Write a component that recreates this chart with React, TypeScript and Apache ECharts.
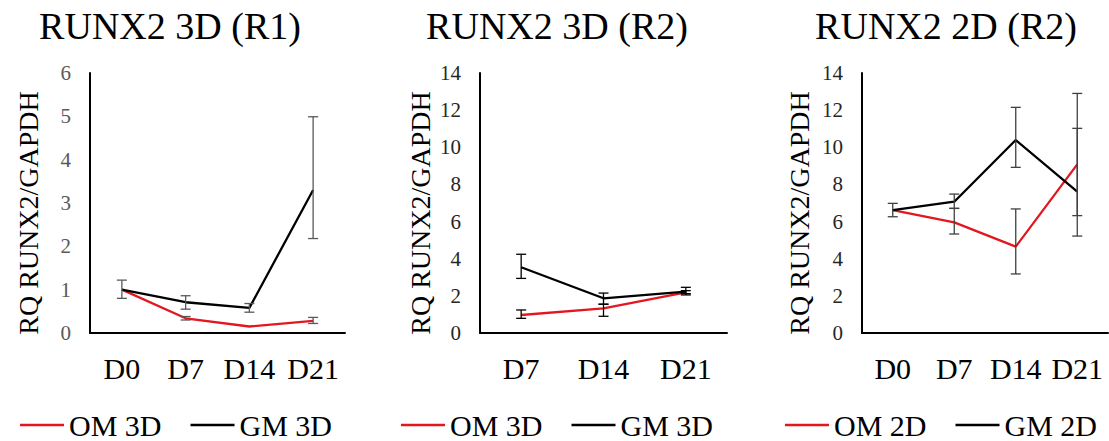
import React, { useEffect, useRef } from "react";
import * as echarts from "echarts";

const cats1 = ["D0", "D7", "D14", "D21"];
const p1OM = [1.0, 0.34, 0.15, 0.28];
const p1OMLow = [null, 0.3, null, 0.22];
const p1OMHigh = [null, 0.38, null, 0.36];
const p1GM = [1.0, 0.71, 0.58, 3.3];
const p1GMLow = [0.8, 0.55, 0.48, 2.18];
const p1GMHigh = [1.22, 0.86, 0.68, 4.99];

const cats2 = ["D7", "D14", "D21"];
const p2OM = [0.97, 1.33, 2.19];
const p2OMLow = [0.79, 0.9, 2.12];
const p2OMHigh = [1.24, 1.55, 2.28];
const p2GM = [3.54, 1.87, 2.23];
const p2GMLow = [2.94, 1.55, 2.05];
const p2GMHigh = [4.24, 2.15, 2.46];

const cats3 = ["D0", "D7", "D14", "D21"];
const p3OM = [6.62, 5.96, 4.65, 9.08];
const p3OMLow = [null, 5.33, 3.18, 5.22];
const p3OMHigh = [null, 6.71, 6.68, 12.9];
const p3GM = [6.62, 7.07, 10.39, 7.61];
const p3GMLow = [6.26, 6.71, 8.92, 6.32];
const p3GMHigh = [6.98, 7.48, 12.15, 11.02];

const titles = ["RUNX2 3D (R1)", "RUNX2 3D (R2)", "RUNX2 2D (R2)"];
const yName = "RQ RUNX2/GAPDH";
const legendNames = [
  ["OM 3D", "GM 3D"],
  ["OM 3D", "GM 3D"],
  ["OM 2D", "GM 2D"],
];

const RED = "#e3171f";
const FONT = "Liberation Serif";

function errData(low: (number | null)[], high: (number | null)[]) {
  const out: any[] = [];
  low.forEach((l, i) => {
    const h = high[i];
    if (l != null && h != null) out.push([i, l, h]);
  });
  return out;
}

function errSeries(idx: number, low: any[], high: any[], color: string) {
  return {
    type: "custom",
    name: "err",
    xAxisIndex: idx,
    yAxisIndex: idx,
    z: 5,
    silent: true,
    data: errData(low, high),
    renderItem: (params: any, api: any) => {
      const i = api.value(0);
      const lo = api.coord([i, api.value(1)]);
      const hi = api.coord([i, api.value(2)]);
      const w = 5;
      const style = { stroke: color, lineWidth: 1.3, fill: "none" };
      return {
        type: "group",
        children: [
          { type: "line", shape: { x1: lo[0], y1: lo[1], x2: hi[0], y2: hi[1] }, style },
          { type: "line", shape: { x1: lo[0] - w, y1: lo[1], x2: lo[0] + w, y2: lo[1] }, style },
          { type: "line", shape: { x1: hi[0] - w, y1: hi[1], x2: hi[0] + w, y2: hi[1] }, style },
        ],
      };
    },
  };
}

function lineSeries(idx: number, name: string, data: number[], color: string) {
  return {
    type: "line",
    name,
    xAxisIndex: idx,
    yAxisIndex: idx,
    data,
    symbol: "none",
    z: 3,
    lineStyle: { color, width: 2.3 },
    itemStyle: { color },
  };
}

export default function App() {
  const ref = useRef<HTMLDivElement>(null);
  useEffect(() => {
    if (!ref.current) return;
    const chart = echarts.init(ref.current, undefined, { renderer: "svg" });

    const grids = [
      { left: 90, right: 1109 - 345, top: 73, bottom: 441 - 333 },
      { left: 480, right: 1109 - 727, top: 73, bottom: 441 - 333 },
      { left: 862, right: 1, top: 73, bottom: 441 - 333 },
    ];
    const catsAll = [cats1, cats2, cats3];
    const yMax = [6, 14, 14];
    const yInt = [1, 2, 2];
    const yLabelColor = ["#595959", "#262626", "#262626"];

    const xAxis = catsAll.map((c, i) => ({
      type: "category",
      gridIndex: i,
      data: c,
      boundaryGap: true,
      axisLine: { show: true, lineStyle: { color: "#000", width: 2 } },
      axisTick: { show: false },
      axisLabel: { interval: 0, fontSize: 30, fontFamily: FONT, color: "#000", margin: 20 },
      splitLine: { show: false },
    }));
    const yAxis = yMax.map((m, i) => ({
      type: "value",
      gridIndex: i,
      min: 0,
      max: m,
      interval: yInt[i],
      axisLine: { show: true, lineStyle: { color: "#000", width: 2 } },
      axisTick: { show: false },
      splitLine: { show: false },
      axisLabel: { fontSize: 21, fontFamily: FONT, color: yLabelColor[i], margin: 19 },
    }));

    const titleX = [170, 557, 946];
    const nameX = [28, 420, 799];
    const legendLeft = [20, 401, 785];

    const graphic: any[] = [];
    titles.forEach((t, i) => {
      graphic.push({
        type: "text",
        x: titleX[i],
        y: 26,
        style: { text: t, fontSize: 38, fontFamily: FONT, fill: "#000", align: "center", verticalAlign: "middle" },
      });
      graphic.push({
        type: "text",
        x: nameX[i],
        y: 213,
        rotation: Math.PI / 2,
        style: { text: yName, fontSize: 28, fontFamily: FONT, fill: "#000", align: "center", verticalAlign: "middle" },
      });
    });

    const legend = legendNames.map((names, i) => ({
      data: names,
      left: legendLeft[i],
      top: 410,
      padding: 0,
      icon: "rect",
      itemWidth: 44,
      itemHeight: 2.5,
      itemGap: 29,
      selectedMode: false,
      textStyle: { fontSize: 30, fontFamily: FONT, color: "#000" },
    }));

    const series: any[] = [
      lineSeries(0, "OM 3D", p1OM, RED),
      lineSeries(0, "GM 3D", p1GM, "#000"),
      errSeries(0, p1GMLow, p1GMHigh, "#595959"),
      errSeries(0, p1OMLow, p1OMHigh, "#595959"),
      lineSeries(1, "OM 3D", p2OM, RED),
      lineSeries(1, "GM 3D", p2GM, "#000"),
      errSeries(1, p2GMLow, p2GMHigh, "#000"),
      errSeries(1, p2OMLow, p2OMHigh, "#000"),
      lineSeries(2, "OM 2D", p3OM, RED),
      lineSeries(2, "GM 2D", p3GM, "#000"),
      errSeries(2, p3GMLow, p3GMHigh, "#404040"),
      errSeries(2, p3OMLow, p3OMHigh, "#404040"),
    ];

    chart.setOption({
      animation: false,
      backgroundColor: "#fff",
      grid: grids,
      xAxis,
      yAxis,
      legend,
      graphic,
      series,
    });
    return () => chart.dispose();
  }, []);
  return (
    <div
      ref={ref}
      style={{ position: "fixed", left: 0, top: 0, width: 1109, height: 441, background: "#fff" }}
    />
  );
}
